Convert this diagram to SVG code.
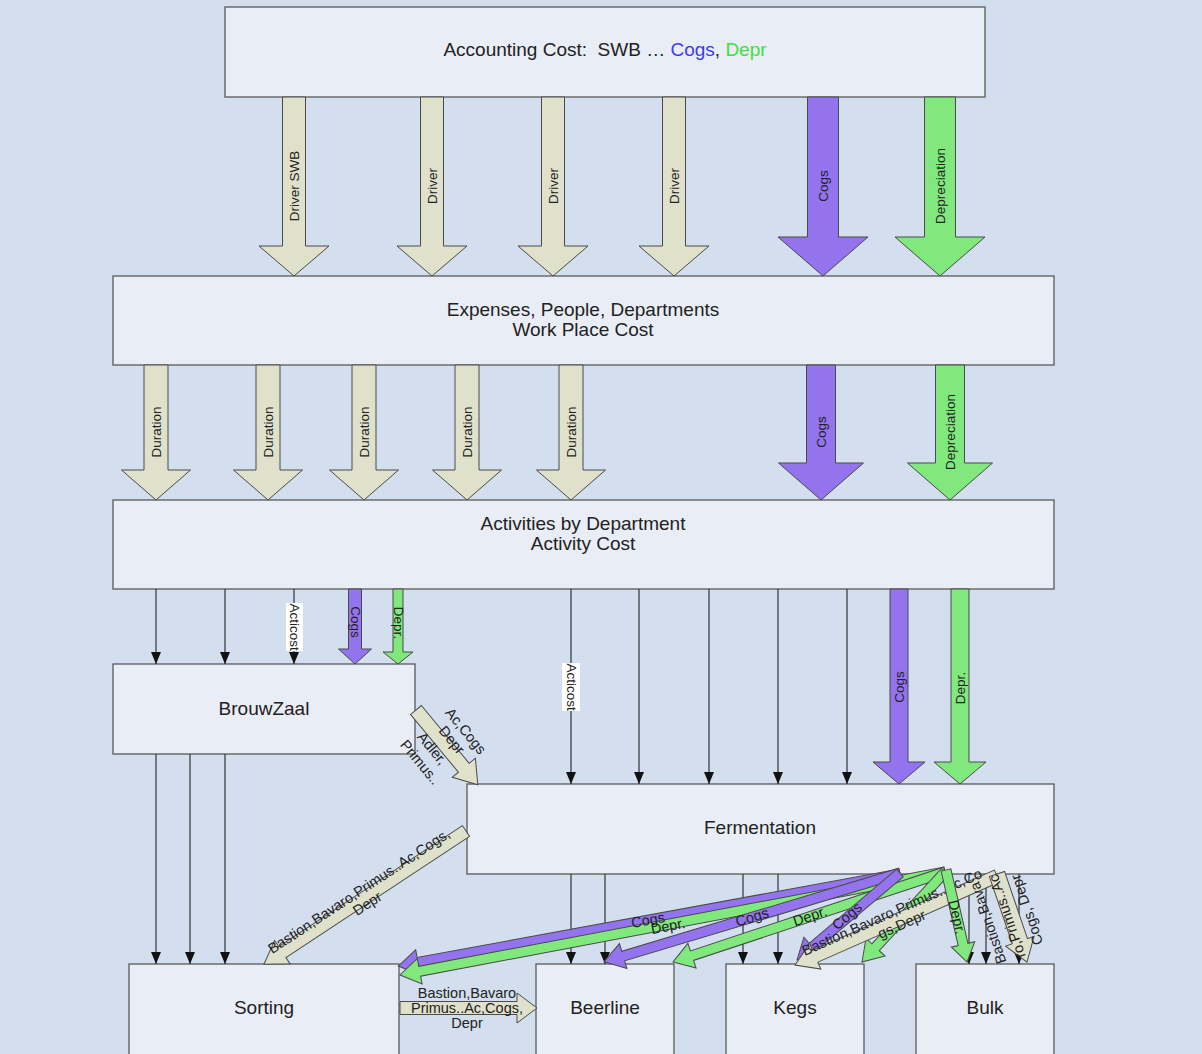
<svg xmlns="http://www.w3.org/2000/svg" width="1202" height="1054" viewBox="0 0 1202 1054">
<defs>
<style>
.box{fill:#e9edf6;stroke:#5a5a5a;stroke-width:1.3}
.lbl{font-family:"Liberation Sans",Arial,sans-serif;font-size:19px;fill:#222;text-anchor:middle}
.al{font-family:"Liberation Sans",Arial,sans-serif;font-size:13.5px;fill:#222;text-anchor:middle}
.dl{font-family:"Liberation Sans",Arial,sans-serif;font-size:14.5px;fill:#222;text-anchor:middle}
.beige{fill:#e0e1cb;stroke:#4a4a4a;stroke-width:1}
.purple{fill:#9473ef;stroke:#4a4a4a;stroke-width:1}
.green{fill:#80e87c;stroke:#4a4a4a;stroke-width:1}
.thin{stroke:#333;stroke-width:1.2;fill:none;marker-end:url(#ah)}
.wbg{fill:#ffffff}
</style>
<marker id="ah" viewBox="0 0 12 10" refX="12" refY="5" markerWidth="12" markerHeight="10" markerUnits="userSpaceOnUse" orient="auto">
<path d="M0,0 L12,5 L0,10 z" fill="#111"/>
</marker>
</defs>
<rect x="0" y="0" width="1202" height="1054" fill="#d3dfee"/>

<g id="accounting">
<rect class="box" x="225" y="7" width="760" height="90"/>
<text class="lbl" x="605" y="56">Accounting Cost:&#160; SWB … <tspan fill="#3c3cf5">Cogs</tspan>, <tspan fill="#3ee03e">Depr</tspan></text>
</g>
<g id="expenses">
<rect class="box" x="113" y="276" width="941" height="89"/>
<text class="lbl" x="583" y="316">Expenses, People, Departments</text>
<text class="lbl" x="583" y="336">Work Place Cost</text>
</g>
<g id="activities">
<rect class="box" x="113" y="500" width="941" height="89"/>
<text class="lbl" x="583" y="530">Activities by Department</text>
<text class="lbl" x="583" y="550">Activity Cost</text>
</g>
<g id="brouwzaal">
<rect class="box" x="113" y="664" width="302" height="90"/>
<text class="lbl" x="264" y="715">BrouwZaal</text>
</g>
<g id="fermentation">
<rect class="box" x="467" y="784" width="587" height="90"/>
<text class="lbl" x="760" y="834">Fermentation</text>
</g>
<g id="sorting">
<rect class="box" x="129" y="964" width="270" height="100"/>
<text class="lbl" x="264" y="1014">Sorting</text>
</g>
<g id="beerline">
<rect class="box" x="536" y="964" width="138" height="100"/>
<text class="lbl" x="605" y="1014">Beerline</text>
</g>
<g id="kegs">
<rect class="box" x="726" y="964" width="138" height="100"/>
<text class="lbl" x="795" y="1014">Kegs</text>
</g>
<g id="bulk">
<rect class="box" x="916" y="964" width="138" height="100"/>
<text class="lbl" x="985" y="1014">Bulk</text>
</g>

<g id="connectors">
<!-- Accounting -> Expenses -->
<polygon class="beige" points="282.5,97 305.5,97 305.5,246 329,246 294,276 259,246 282.5,246"/>
<polygon class="beige" points="420.5,97 443.5,97 443.5,246 467,246 432,276 397,246 420.5,246"/>
<polygon class="beige" points="541.5,97 564.5,97 564.5,246 588,246 553,276 518,246 541.5,246"/>
<polygon class="beige" points="662.5,97 685.5,97 685.5,246 709,246 674,276 639,246 662.5,246"/>
<polygon class="purple" points="807.5,97 838.5,97 838.5,237 868,237 823,276 778,237 807.5,237"/>
<polygon class="green" points="924.5,97 955.5,97 955.5,237 985,237 940,276 895,237 924.5,237"/>
<text class="al" transform="translate(294,186) rotate(-90)" y="4.5">Driver SWB</text>
<text class="al" transform="translate(432,186) rotate(-90)" y="4.5">Driver</text>
<text class="al" transform="translate(553,186) rotate(-90)" y="4.5">Driver</text>
<text class="al" transform="translate(674,186) rotate(-90)" y="4.5">Driver</text>
<text class="al" transform="translate(823,186) rotate(-90)" y="4.5">Cogs</text>
<text class="al" transform="translate(940,186) rotate(-90)" y="4.5">Depreciation</text>

<!-- Expenses -> Activities -->
<polygon class="beige" points="144,365 168,365 168,470 190.5,470 156,500 121.5,470 144,470"/>
<polygon class="beige" points="256,365 280,365 280,470 302.5,470 268,500 233.5,470 256,470"/>
<polygon class="beige" points="352,365 376,365 376,470 398.5,470 364,500 329.5,470 352,470"/>
<polygon class="beige" points="455,365 479,365 479,470 501.5,470 467,500 432.5,470 455,470"/>
<polygon class="beige" points="559,365 583,365 583,470 605.5,470 571,500 536.5,470 559,470"/>
<polygon class="purple" points="806.5,365 835.5,365 835.5,463 863.5,463 821,500 778.5,463 806.5,463"/>
<polygon class="green" points="935.5,365 964.5,365 964.5,463 992.5,463 950,500 907.5,463 935.5,463"/>
<text class="al" transform="translate(156,432) rotate(-90)" y="4.5">Duration</text>
<text class="al" transform="translate(268,432) rotate(-90)" y="4.5">Duration</text>
<text class="al" transform="translate(364,432) rotate(-90)" y="4.5">Duration</text>
<text class="al" transform="translate(467,432) rotate(-90)" y="4.5">Duration</text>
<text class="al" transform="translate(571,432) rotate(-90)" y="4.5">Duration</text>
<text class="al" transform="translate(821,432) rotate(-90)" y="4.5">Cogs</text>
<text class="al" transform="translate(950,432) rotate(-90)" y="4.5">Depreciation</text>

<!-- Activities -> BrouwZaal -->
<line class="thin" x1="156" y1="589" x2="156" y2="664"/>
<line class="thin" x1="225" y1="589" x2="225" y2="664"/>
<line class="thin" x1="294" y1="589" x2="294" y2="664"/>
<rect class="wbg" x="286" y="603" width="17" height="48"/>
<text class="al" transform="translate(294,627) rotate(90)" y="4.5">Acticost</text>
<polygon class="purple" points="348.5,589 361.5,589 361.5,649 371.5,649 355,664 338.5,649 348.5,649"/>
<text class="al" transform="translate(355,622) rotate(90)" y="4.5">Cogs</text>
<polygon class="green" points="393,589 403,589 403,652 413,652 398,664 383,652 393,652"/>
<text class="al" transform="translate(398,623) rotate(90)" y="4.5">Depr.</text>

<!-- Activities -> Fermentation -->
<line class="thin" x1="571" y1="589" x2="571" y2="784"/>
<line class="thin" x1="639" y1="589" x2="639" y2="784"/>
<line class="thin" x1="709" y1="589" x2="709" y2="784"/>
<line class="thin" x1="778" y1="589" x2="778" y2="784"/>
<line class="thin" x1="847" y1="589" x2="847" y2="784"/>
<rect class="wbg" x="562" y="663" width="18" height="48"/>
<text class="al" transform="translate(571,687) rotate(90)" y="4.5">Acticost</text>
<polygon class="purple" points="890,589 908,589 908,762 925,762 899,784 873,762 890,762"/>
<text class="al" transform="translate(899,687) rotate(-90)" y="4.5">Cogs</text>
<polygon class="green" points="951,589 969,589 969,762 986,762 960,784 934,762 951,762"/>
<text class="al" transform="translate(960,688) rotate(-90)" y="4.5">Depr.</text>

<!-- BrouwZaal -> Sorting -->
<line class="thin" x1="156" y1="754" x2="156" y2="964"/>
<line class="thin" x1="190" y1="754" x2="190" y2="964"/>
<line class="thin" x1="225" y1="754" x2="225" y2="964"/>

<!-- BrouwZaal -> Fermentation -->
<g transform="translate(416,710) rotate(50.4)">
<polygon class="beige" points="0,-7 75,-7 75,-15 97,0 75,15 75,7 0,7"/>
<text class="dl" x="48" y="-20">Ac,Cogs</text>
<text class="dl" x="46" y="-3.5">Depr</text>
<text class="dl" x="40" y="17">Adler,</text>
<text class="dl" x="43" y="35">Primus..</text>
</g>

<!-- Fermentation -> Sorting (beige) -->
<g transform="translate(466,831) rotate(146.6)">
<polygon class="beige" points="0,-6.5 220,-6.5 220,-14 242,0 220,14 220,6.5 0,6.5"/>
</g>
<g transform="translate(359,891) rotate(-33.4)">
<text class="dl" x="0" y="5">Bastion,Bavaro,Primus..Ac,Cogs,</text>
<text class="dl" x="0" y="20">Depr</text>
</g>

<!-- Fermentation -> bottom thin arrows -->
<line class="thin" x1="571" y1="874" x2="571" y2="964"/>
<line class="thin" x1="605" y1="874" x2="605" y2="964"/>
<line class="thin" x1="743" y1="874" x2="743" y2="964"/>
<line class="thin" x1="778" y1="874" x2="778" y2="964"/>
<line class="thin" x1="969" y1="874" x2="969" y2="964"/>
<line class="thin" x1="986" y1="874" x2="986" y2="964"/>
<line class="thin" x1="1019" y1="874" x2="1019" y2="964"/>

<!-- Fermentation -> Sorting / Beerline / Kegs (purple, green) -->
<g transform="translate(900,874) rotate(169.6)">
<polygon class="purple" points="0,-5 490,-5 490,-13 510,0 490,13 490,5 0,5"/>
</g>
<g transform="translate(945,872) rotate(169.3)">
<polygon class="green" points="0,-5 534.6,-5 534.6,-13 554.6,0 534.6,13 534.6,5 0,5"/>
</g>
<g transform="translate(900,873) rotate(163.3)">
<polygon class="purple" points="0,-5 289,-5 289,-13 309,0 289,13 289,5 0,5"/>
</g>
<g transform="translate(945,872) rotate(161.7)">
<polygon class="green" points="0,-5 266.5,-5 266.5,-13 286.5,0 266.5,13 266.5,5 0,5"/>
</g>
<g transform="translate(900,873) rotate(139.8)">
<polygon class="purple" points="0,-5 114.8,-5 114.8,-13 134.8,0 114.8,13 114.8,5 0,5"/>
</g>
<g transform="translate(945,872) rotate(132.7)">
<polygon class="green" points="0,-5 102.4,-5 102.4,-13 122.4,0 102.4,13 102.4,5 0,5"/>
</g>
<text class="dl" transform="translate(648,920) rotate(-10.4)" y="5">Cogs</text>
<text class="dl" transform="translate(668,926) rotate(-10.7)" y="5">Depr.</text>
<text class="dl" transform="translate(752,917) rotate(-16.7)" y="5">Cogs</text>
<text class="dl" transform="translate(810,916) rotate(-18.3)" y="5">Depr.</text>
<text class="dl" transform="translate(847,916) rotate(-40.2)" y="5">Cogs</text>

<!-- Fermentation -> Kegs (beige) -->
<g transform="translate(997,876) rotate(156.2)">
<polygon class="beige" points="0,-6.5 198.7,-6.5 198.7,-14 220.7,0 198.7,14 198.7,6.5 0,6.5"/>
</g>
<g transform="translate(892,912) rotate(-23.8)">
<text class="dl" x="0" y="5">Bastion,Bavaro,Primus..Ac,Co</text>
<text class="dl" x="4" y="20">gs,Depr</text>
</g>

<!-- Fermentation -> Bulk -->
<g transform="translate(946,870) rotate(77.1)">
<polygon class="green" points="0,-5 76.4,-5 76.4,-12 94.4,0 76.4,12 76.4,5 0,5"/>
</g>
<text class="dl" transform="translate(957,917) rotate(77.1)" y="5">Depr.</text>
<g transform="translate(997,874) rotate(71.2)">
<polygon class="beige" points="0,-8 71,-8 71,-15 93,0 71,15 71,8 0,8"/>
</g>
<g transform="translate(988,923) rotate(-108.8)">
<text class="dl" x="0" y="5">Bastion,Bava</text>
<text class="dl" x="0" y="25">ro,Primus..Ac</text>
<text class="dl" x="0" y="46">Cogs, Depr</text>
</g>

<!-- Sorting -> Beerline -->
<polygon class="beige" points="400,1001.5 517,1001.5 517,993 537,1008 517,1023 517,1014.5 400,1014.5"/>
<text class="dl" x="467" y="998">Bastion,Bavaro</text>
<text class="dl" x="467" y="1013">Primus..Ac,Cogs,</text>
<text class="dl" x="467" y="1028">Depr</text>
</g>
</svg>
